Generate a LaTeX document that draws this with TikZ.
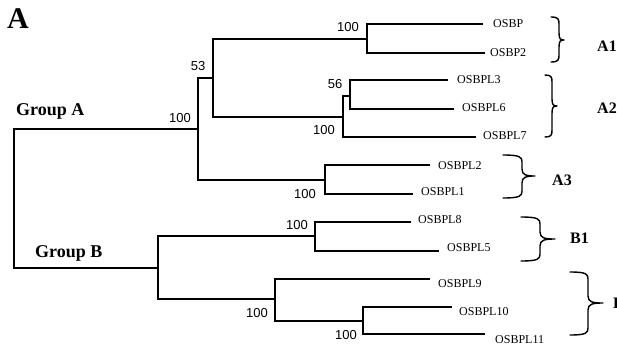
\documentclass[tikz,border=0pt]{standalone}
\usepackage{fontspec}
\setmainfont{Liberation Serif}
\newfontfamily\numfont{Liberation Sans}
\tikzset{bracestyle/.style={line width=1.4pt, line cap=round, line join=round}}
% #1 x of ends, #2 top y, #3 bottom y, #4 tip y, #5 offset of straight part, #6 offset of tip
\newcommand\cbrace[6]{\draw[bracestyle] (#1,#2)
  .. controls ({#1+0.9*#5},{#2}) and ({#1+#5},{#2+2}) .. ({#1+#5},{#2+7})
  -- ({#1+#5},{#4-7})
  .. controls ({#1+#5},{#4-1}) and ({#1+#5+0.3*(#6-#5)},{#4}) .. ({#1+#6},{#4})
  .. controls ({#1+#5+0.3*(#6-#5)},{#4}) and ({#1+#5},{#4+1}) .. ({#1+#5},{#4+7})
  -- ({#1+#5},{#3-7})
  .. controls ({#1+#5},{#3-2}) and ({#1+0.9*#5},{#3}) .. (#1,#3);}
\begin{document}
\begin{tikzpicture}[x=1pt,y=-1pt,
  branch/.style={line width=1.1pt, line cap=butt},
  leaf/.style={anchor=west, inner sep=0pt, font=\fontsize{12}{12}\selectfont},
  boot/.style={inner sep=0pt, font=\numfont\fontsize{13}{13}\selectfont},
  grp/.style={anchor=base west, inner sep=0pt, font=\bfseries\fontsize{18}{18}\selectfont},
  clade/.style={anchor=west, inner sep=0pt, font=\bfseries\fontsize{16}{16}\selectfont},
]
\useasboundingbox (0,0) rectangle (617,350);

% internal nodes
\coordinate (root) at (14,198);
\coordinate (gA) at (198,129);
\coordinate (gB) at (158,268);
\coordinate (n53) at (213,78);
\coordinate (nA3) at (325,180);
\coordinate (nA1) at (367,39);
\coordinate (nA2) at (343,117);
\coordinate (n56) at (350,96);
\coordinate (nB1) at (315,236);
\coordinate (nB2) at (275,299);
\coordinate (n1011) at (363,321);
% leaf ends
\coordinate (lOSBP) at (483,24);
\coordinate (lOSBP2) at (485,53);
\coordinate (lL3) at (448,80);
\coordinate (lL6) at (454,109);
\coordinate (lL7) at (476,137);
\coordinate (lL2) at (430,165);
\coordinate (lL1) at (413,194);
\coordinate (lL8) at (411,222);
\coordinate (lL5) at (439,251);
\coordinate (lL9) at (430,279);
\coordinate (lL10) at (452,307);
\coordinate (lL11) at (485,334);

% branches
\draw[branch] (root) |- (gA);
\draw[branch] (root) |- (gB);
\draw[branch] (gA) |- (n53);
\draw[branch] (gA) |- (nA3);
\draw[branch] (n53) |- (nA1);
\draw[branch] (n53) |- (nA2);
\draw[branch] (nA1) |- (lOSBP);
\draw[branch] (nA1) |- (lOSBP2);
\draw[branch] (nA2) |- (n56);
\draw[branch] (nA2) |- (lL7);
\draw[branch] (n56) |- (lL3);
\draw[branch] (n56) |- (lL6);
\draw[branch] (nA3) |- (lL2);
\draw[branch] (nA3) |- (lL1);
\draw[branch] (gB) |- (nB1);
\draw[branch] (gB) |- (nB2);
\draw[branch] (nB1) |- (lL8);
\draw[branch] (nB1) |- (lL5);
\draw[branch] (nB2) |- (lL9);
\draw[branch] (nB2) |- (n1011);
\draw[branch] (n1011) |- (lL10);
\draw[branch] (n1011) |- (lL11);

% leaf labels
\node[leaf] (tOSBP) at (493,24) {OSBP};
\node[leaf] (tOSBP2) at (490,52.5) {OSBP2};
\node[leaf] (tL3) at (457,80) {OSBPL3};
\node[leaf] (tL6) at (462,108) {OSBPL6};
\node[leaf] (tL7) at (483,136) {OSBPL7};
\node[leaf] (tL2) at (438,165.5) {OSBPL2};
\node[leaf] (tL1) at (421,192) {OSBPL1};
\node[leaf] (tL8) at (418,220) {OSBPL8};
\node[leaf] (tL5) at (447,247.5) {OSBPL5};
\node[leaf] (tL9) at (438,284) {OSBPL9};
\node[leaf] (tL10) at (459,311.5) {OSBPL10};
\node[leaf] (tL11) at (495,340) {OSBPL11};

% bootstrap values
\node[boot] (bA) at (180,118) {100};
\node[boot] (b53) at (198,66.5) {53};
\node[boot] (bA1) at (348,27.5) {100};
\node[boot] (b56) at (335,84) {56};
\node[boot] (bA2) at (324,130.5) {100};
\node[boot] (bA3) at (305,194) {100};
\node[boot] (bB1) at (297,225) {100};
\node[boot] (bB2) at (257,313) {100};
\node[boot] (b1011) at (346,335) {100};

% group labels
\node[anchor=base west, inner sep=0pt, font=\bfseries\fontsize{30}{30}\selectfont] (panel) at (7,28.5) {A};
\node[grp] (grpA) at (16,115) {Group A};
\node[grp] (grpB) at (35,257) {Group B};

% braces and clade labels
\cbrace{551}{17}{62}{40}{8}{13}
\cbrace{545}{75}{137}{106}{7}{12}
\cbrace{503}{155}{198}{176}{19}{32}
\cbrace{521}{217}{261}{239}{19}{34}
\cbrace{570}{272}{335}{303}{18}{33}
\node[clade] (cA1) at (597,46) {A1};
\node[clade] (cA2) at (597,108) {A2};
\node[clade] (cA3) at (552,180) {A3};
\node[clade] (cB1) at (570,238.5) {B1};
\node[clade] (cB2) at (613,303) {B2};
\end{tikzpicture}
\end{document}
